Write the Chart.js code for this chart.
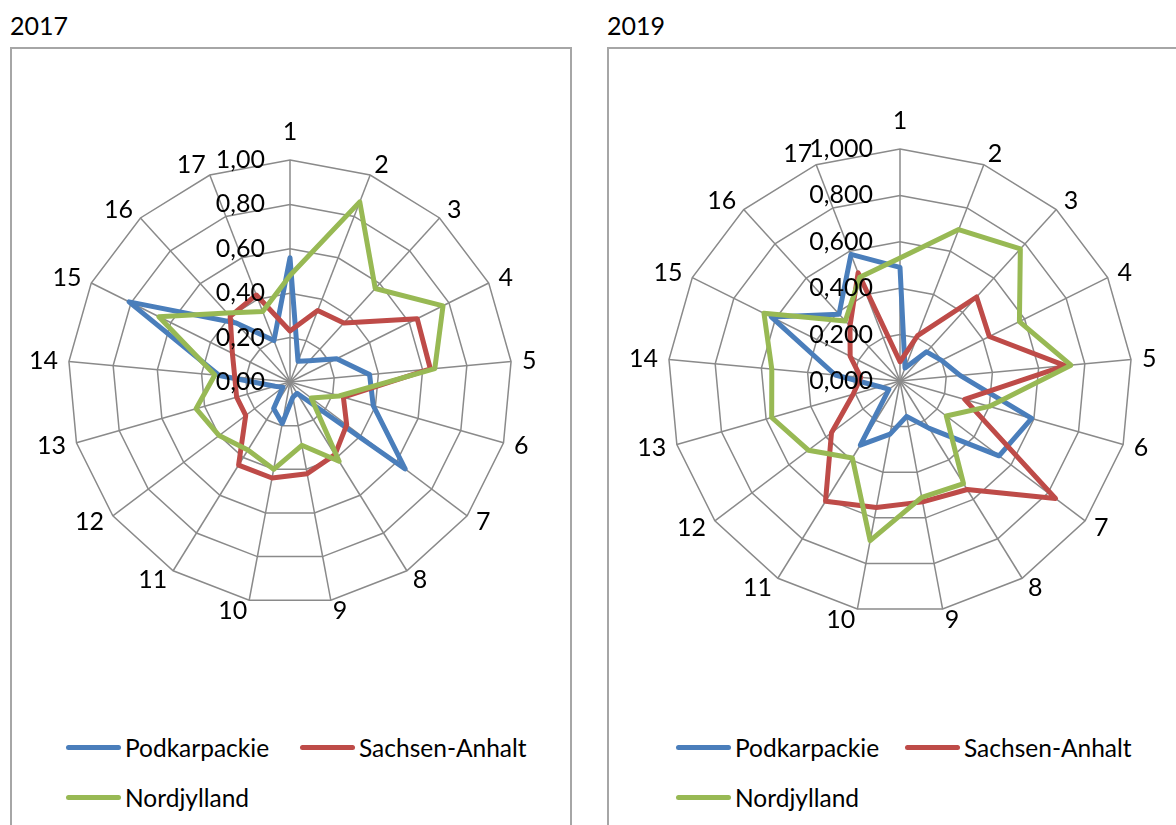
<!DOCTYPE html>
<html>
<head>
<meta charset="utf-8">
<script src="https://cdn.jsdelivr.net/npm/chart.js@4.4.1/dist/chart.umd.min.js"></script>
<style>
  html, body { margin: 0; padding: 0; background: #fff; }
  body { width: 1176px; height: 825px; overflow: hidden; position: relative; font-family: Lato, "Open Sans", sans-serif; color: #000; }
  .title { position: absolute; top: 9px; font-size: 25px; line-height: 32px; }
  .box { position: absolute; top: 47px; height: 820px; border: 2px solid #a6a6a6; box-sizing: border-box; }
  canvas { position: absolute; }
  .leg { position: absolute; height: 30px; display: flex; align-items: center; font-size: 24.5px; white-space: nowrap; }
  .leg i { display: inline-block; width: 55px; height: 5px; border-radius: 3px; margin-right: 4px; }
</style>
</head>
<body>
<div class="title" style="left:10px">2017</div>
<div class="title" style="left:607px">2019</div>
<div class="box" style="left:10px; width:562px"></div>
<div class="box" style="left:607px; width:620px"></div>
<canvas id="c2017" width="558" height="636" style="left:12px; top:49px"></canvas>
<canvas id="c2019" width="567" height="636" style="left:609px; top:49px"></canvas>
<div id="legends"></div>
<script>
// ---- data ----
const categories = ['1','2','3','4','5','6','7','8','9','10','11','12','13','14','15','16','17'];
const seriesNames = ['Podkarpackie', 'Sachsen-Anhalt', 'Nordjylland'];
const seriesColors = ['#4A7EBB', '#BE4B48', '#98B954'];

const tickValues = [0, 0.2, 0.4, 0.6, 0.8, 1.0];
const tickLabels2017 = ['0,00', '0,20', '0,40', '0,60', '0,80', '1,00'];
const tickLabels2019 = ['0,000', '0,200', '0,400', '0,600', '0,800', '1,000'];

const podkarpackie2017 = [0.56, 0.10, 0.13, 0.235, 0.36, 0.39, 0.65, 0.06, 0.07, 0.19, 0.14, 0.04, 0.07, 0.32, 0.81, 0.36, 0.20];
const sachsen2017      = [0.23, 0.345, 0.36, 0.64, 0.635, 0.25, 0.32, 0.385, 0.42, 0.44, 0.44, 0.25, 0.25, 0.25, 0.29, 0.40, 0.42];
const nordjylland2017  = [0.48, 0.87, 0.57, 0.77, 0.655, 0.23, 0.12, 0.42, 0.29, 0.40, 0.36, 0.40, 0.44, 0.34, 0.66, 0.42, 0.34];

const podkarpackie2019 = [0.49, 0.06, 0.17, 0.20, 0.26, 0.59, 0.535, 0.24, 0.155, 0.233, 0.325, 0.06, 0.09, 0.28, 0.62, 0.39, 0.585];
const sachsen2019      = [0.083, 0.21, 0.49, 0.43, 0.715, 0.29, 0.84, 0.55, 0.53, 0.555, 0.61, 0.37, 0.21, 0.17, 0.24, 0.32, 0.50];
const nordjylland2019  = [0.53, 0.70, 0.77, 0.575, 0.74, 0.40, 0.25, 0.52, 0.51, 0.70, 0.39, 0.495, 0.575, 0.555, 0.655, 0.35, 0.48];

// ---- plugin: category labels around the web and value labels beside axis 1 ----
const radarText = {
  id: 'radarText',
  afterDatasetsDraw(chart, args, opts) {
    const s = chart.scales.r;
    const ctx = chart.ctx;
    ctx.save();
    ctx.fillStyle = '#000';
    ctx.font = opts.font;
    ctx.textBaseline = 'middle';
    chart.data.labels.forEach((lab, i) => {
      const a = s.getIndexAngle(i);
      const sin = Math.sin(a);
      let p;
      if (Math.abs(sin) < 0.01) {
        ctx.textAlign = 'center';
        p = s.getPointPosition(i, s.drawingArea + opts.topGap);
      } else {
        ctx.textAlign = sin > 0 ? 'left' : 'right';
        p = s.getPointPosition(i, s.drawingArea + opts.gap);
      }
      ctx.fillText(lab, p.x, p.y);
    });
    ctx.textAlign = 'right';
    s.ticks.forEach(t => {
      const d = s.getDistanceFromCenterForValue(t.value);
      ctx.fillText(t.label, s.xCenter - opts.tickGap, s.yCenter - d);
    });
    ctx.restore();
  }
};

Chart.defaults.font.family = 'Lato';

function makeRadar(id, values, tickLabels, padding, tickGap) {
  return new Chart(document.getElementById(id), {
    type: 'radar',
    data: {
      labels: categories,
      datasets: values.map((v, k) => ({
        label: seriesNames[k],
        data: v,
        borderColor: seriesColors[k],
        backgroundColor: seriesColors[k],
        borderWidth: 5,
        borderJoinStyle: 'round',
        pointRadius: 0,
        pointHoverRadius: 0,
        fill: false,
        order: values.length - 1 - k
      }))
    },
    options: {
      responsive: false,
      animation: false,
      layout: { padding },
      plugins: {
        legend: { display: false },
        tooltip: { enabled: false },
        radarText: { font: '25px Lato', gap: 11, topGap: 28, tickGap }
      },
      scales: {
        r: {
          min: 0,
          max: 1,
          afterBuildTicks: (scale) => { scale.ticks = tickValues.map(v => ({ value: v })); },
          ticks: { stepSize: 0.2, display: false, callback: (v, i) => tickLabels[i] },
          pointLabels: { display: false },
          grid: { color: '#8a8a8a', lineWidth: 1.5 },
          angleLines: { color: '#8a8a8a', lineWidth: 1.5 }
        }
      }
    },
    plugins: [radarText]
  });
}

makeRadar('c2017', [podkarpackie2017, sachsen2017, nordjylland2017], tickLabels2017,
          { left: 56, top: 111, right: 58, bottom: 81 }, 25);
makeRadar('c2019', [podkarpackie2019, sachsen2019, nordjylland2019], tickLabels2019,
          { left: 59, top: 100, right: 44, bottom: 72 }, 27);

// ---- legends ----
const legendSpots = [
  [[66, 732], [300, 732], [66, 782]],
  [[676, 732], [905, 732], [676, 782]]
];
const legHost = document.getElementById('legends');
legendSpots.forEach(spots => {
  spots.forEach((pos, k) => {
    const d = document.createElement('div');
    d.className = 'leg';
    d.style.left = pos[0] + 'px';
    d.style.top = pos[1] + 'px';
    const sw = document.createElement('i');
    sw.style.background = seriesColors[k];
    d.appendChild(sw);
    d.appendChild(document.createTextNode(seriesNames[k]));
    legHost.appendChild(d);
  });
});
</script>
</body>
</html>
